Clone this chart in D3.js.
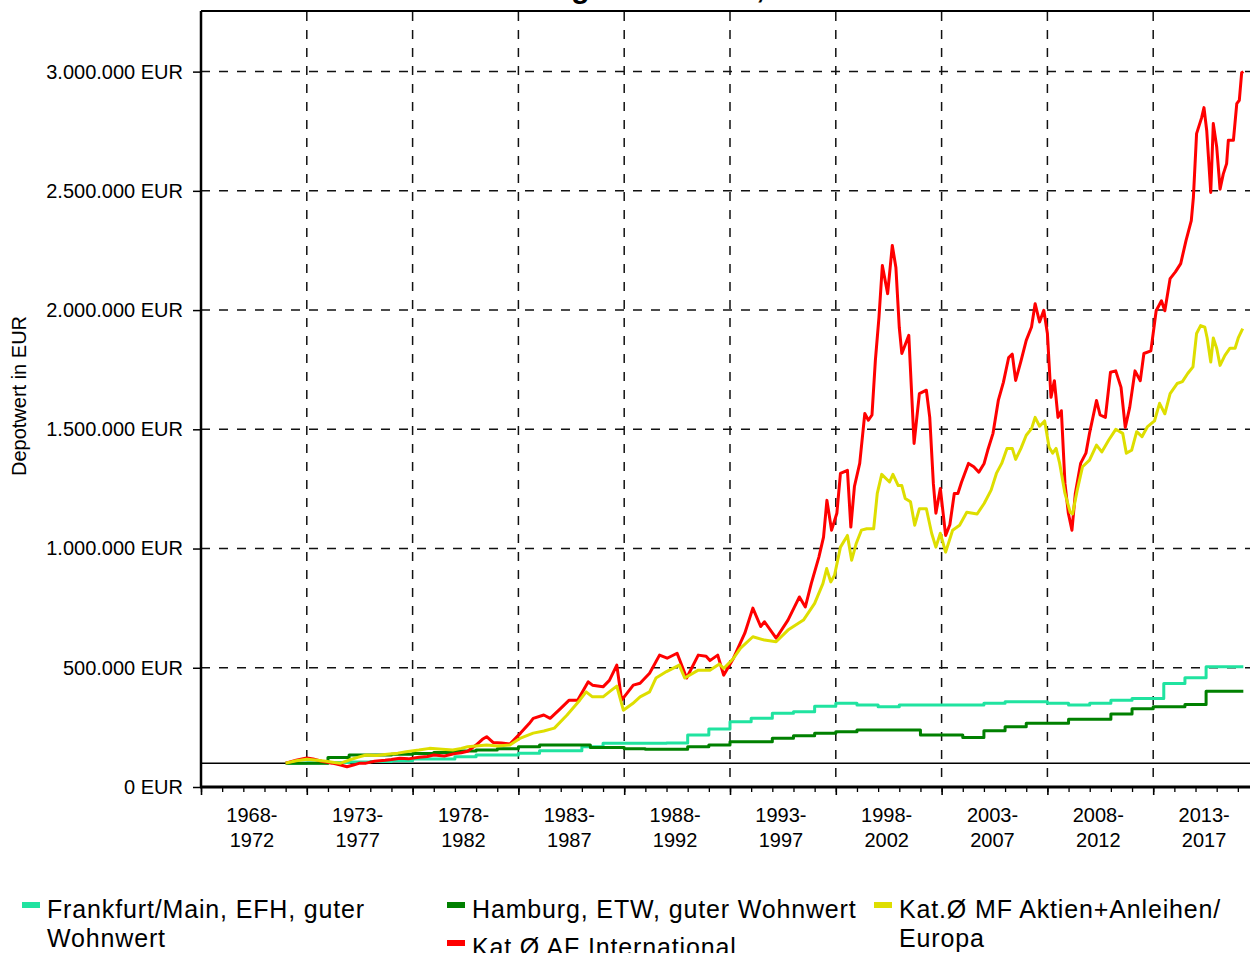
<!DOCTYPE html>
<html>
<head>
<meta charset="utf-8">
<script src="https://cdn.jsdelivr.net/npm/d3@7/dist/d3.min.js"></script>
<style>
  body { margin: 0; background: #fff; }
  text { font-family: "Liberation Sans", Arial, sans-serif; fill: #000; }
</style>
</head>
<body>
<svg id="chart"></svg>
<script>
// 5-year periods on the x axis
const periods = ['1968-1972', '1973-1977', '1978-1982', '1983-1987', '1988-1992',
  '1993-1997', '1998-2002', '2003-2007', '2008-2012', '2013-2017'];

// y ticks in thousand EUR
const yTicks = [0, 500, 1000, 1500, 2000, 2500, 3000];

// [year, depot value in thousand EUR]
const frankfurt = [[1972, 100], [1973, 101], [1974, 103], [1975, 105], [1976, 107], [1977, 110],
  [1978, 117], [1980, 127], [1981, 134], [1983, 142], [1984, 152], [1986, 169], [1987, 183],
  [1990, 185], [1991, 218], [1992, 243], [1993, 274], [1994, 288], [1995, 309], [1996, 316],
  [1997, 339], [1998, 351], [1999, 344], [2000, 337], [2001, 344], [2005, 351], [2006, 357],
  [2008, 351], [2009, 344], [2010, 351], [2011, 364], [2012, 371], [2013.5, 434], [2014.5, 458],
  [2015.5, 504], [2017.26, 504]];

const hamburg = [[1972, 100], [1974, 124], [1975, 134], [1977, 137], [1978, 140], [1979, 145],
  [1980, 151], [1981, 155], [1982, 160], [1983, 169], [1984, 176], [1986.4, 166], [1988, 160],
  [1989, 158], [1991, 169], [1992, 176], [1993, 190], [1995, 204], [1996, 215], [1997, 225],
  [1998, 232], [1999, 239], [2002, 218], [2004, 208], [2005, 236], [2006, 253], [2007, 267],
  [2009, 284], [2011, 306], [2012, 328], [2013, 337], [2014.5, 346], [2015.5, 402], [2017.26, 402]];

const mfEuropa = [[1972.0, 100], [1972.5, 110], [1973.0, 116], [1973.5, 112], [1973.9, 108],
  [1974.3, 103], [1974.6, 100], [1975.0, 113], [1975.4, 124], [1975.8, 134], [1976.3, 132],
  [1976.8, 137], [1977.3, 142], [1977.7, 148], [1978.3, 155], [1978.8, 162], [1979.4, 158],
  [1979.9, 155], [1980.3, 162], [1980.6, 169], [1981.0, 172], [1981.5, 176], [1982.0, 172],
  [1982.6, 176], [1983.1, 205], [1983.7, 226], [1984.2, 235], [1984.7, 247], [1985.3, 302],
  [1985.9, 364], [1986.2, 399], [1986.5, 378], [1987.0, 378], [1987.4, 406], [1987.65, 423],
  [1987.96, 322], [1988.4, 350], [1988.75, 378], [1989.2, 399], [1989.5, 457], [1990.0, 484],
  [1990.6, 511], [1990.86, 457], [1991.5, 490], [1992.05, 490], [1992.5, 516], [1992.7, 497],
  [1993.16, 539], [1993.5, 582], [1994.08, 630], [1994.63, 616], [1995.18, 609], [1995.74, 658],
  [1996.47, 700], [1997.0, 770], [1997.39, 853], [1997.57, 916], [1997.76, 860], [1997.94, 888],
  [1998.22, 1006], [1998.55, 1055], [1998.75, 951], [1998.96, 1020], [1999.21, 1077],
  [1999.46, 1083], [1999.79, 1083], [1999.96, 1231], [2000.17, 1311], [2000.54, 1279],
  [2000.7, 1311], [2000.95, 1264], [2001.12, 1264], [2001.28, 1210], [2001.53, 1196],
  [2001.73, 1098], [2001.95, 1167], [2002.28, 1167], [2002.53, 1064], [2002.73, 1006],
  [2002.94, 1064], [2003.19, 985], [2003.52, 1077], [2003.85, 1098], [2004.19, 1152],
  [2004.68, 1145], [2005.01, 1189], [2005.34, 1245], [2005.59, 1315], [2005.84, 1357],
  [2006.09, 1420], [2006.34, 1420], [2006.5, 1374], [2006.75, 1420], [2007.0, 1475],
  [2007.25, 1503], [2007.42, 1550], [2007.63, 1513], [2007.87, 1535], [2008.08, 1425],
  [2008.25, 1400], [2008.41, 1420], [2008.58, 1357], [2008.83, 1231], [2009.08, 1152],
  [2009.19, 1145], [2009.41, 1245], [2009.66, 1343], [2009.99, 1371], [2010.32, 1434],
  [2010.57, 1405], [2010.9, 1455], [2011.23, 1500], [2011.56, 1483], [2011.73, 1400],
  [2011.98, 1412], [2012.22, 1490], [2012.47, 1469], [2012.72, 1510], [2013.06, 1535],
  [2013.3, 1609], [2013.55, 1565], [2013.8, 1650], [2014.13, 1692], [2014.38, 1700],
  [2014.63, 1734], [2014.88, 1762], [2015.05, 1902], [2015.24, 1935], [2015.44, 1928],
  [2015.55, 1883], [2015.72, 1782], [2015.84, 1883], [2016.0, 1840], [2016.16, 1768],
  [2016.39, 1810], [2016.63, 1840], [2016.87, 1840], [2017.02, 1883], [2017.23, 1922]];

const afIntl = [[1972.0, 100], [1972.5, 112], [1973.0, 122], [1973.3, 118], [1973.7, 108],
  [1974.2, 100], [1974.6, 92], [1974.9, 85], [1975.2, 92], [1975.5, 100], [1975.8, 100],
  [1976.2, 108], [1976.7, 112], [1977.0, 115], [1977.4, 121], [1977.8, 118], [1978.3, 125],
  [1978.7, 128], [1979.0, 134], [1979.5, 130], [1980.0, 140], [1980.3, 144], [1980.6, 150],
  [1981.0, 176], [1981.3, 200], [1981.5, 211], [1981.8, 187], [1982.2, 185], [1982.6, 180],
  [1983.1, 226], [1983.5, 265], [1983.7, 288], [1984.2, 302], [1984.5, 288], [1985.0, 330],
  [1985.4, 364], [1985.8, 364], [1986.3, 441], [1986.5, 427], [1987.0, 420], [1987.3, 447],
  [1987.65, 511], [1987.88, 364], [1988.43, 427], [1988.75, 435], [1989.2, 477], [1989.67, 553],
  [1990.03, 540], [1990.5, 561], [1990.95, 457], [1991.5, 553], [1991.87, 548], [1992.05, 530],
  [1992.42, 553], [1992.7, 469], [1993.16, 539], [1993.7, 645], [1994.08, 750], [1994.45, 673],
  [1994.63, 693], [1995.18, 624], [1995.74, 700], [1996.28, 797], [1996.56, 755], [1996.84, 853],
  [1997.2, 964], [1997.42, 1048], [1997.58, 1202], [1997.8, 1077], [1998.05, 1148],
  [1998.22, 1315], [1998.55, 1328], [1998.71, 1090], [1998.88, 1260], [1999.13, 1357],
  [1999.37, 1566], [1999.54, 1538], [1999.71, 1560], [1999.87, 1789], [2000.04, 1969],
  [2000.2, 2187], [2000.45, 2069], [2000.67, 2271], [2000.84, 2179], [2001.0, 1927],
  [2001.12, 1818], [2001.45, 1894], [2001.7, 1441], [2001.95, 1650], [2002.28, 1664],
  [2002.44, 1550], [2002.61, 1273], [2002.73, 1148], [2002.94, 1252], [2003.19, 1055],
  [2003.39, 1100], [2003.6, 1231], [2003.77, 1231], [2003.94, 1278], [2004.27, 1357],
  [2004.52, 1343], [2004.76, 1320], [2005.01, 1357], [2005.18, 1412], [2005.43, 1483],
  [2005.68, 1621], [2005.92, 1697], [2006.17, 1801], [2006.34, 1815], [2006.5, 1705],
  [2006.75, 1786], [2007.0, 1873], [2007.25, 1929], [2007.42, 2027], [2007.63, 1950],
  [2007.83, 1999], [2008.0, 1902], [2008.17, 1634], [2008.33, 1704], [2008.5, 1550],
  [2008.66, 1578], [2008.83, 1273], [2008.99, 1148], [2009.16, 1077], [2009.32, 1231],
  [2009.57, 1357], [2009.82, 1400], [2009.99, 1483], [2010.32, 1621], [2010.49, 1560],
  [2010.74, 1550], [2010.98, 1739], [2011.23, 1745], [2011.48, 1676], [2011.68, 1508],
  [2011.89, 1592], [2012.14, 1745], [2012.39, 1704], [2012.56, 1818], [2012.89, 1829],
  [2013.14, 1997], [2013.39, 2039], [2013.55, 1997], [2013.8, 2132], [2014.05, 2160],
  [2014.3, 2195], [2014.55, 2291], [2014.8, 2375], [2014.9, 2473], [2015.05, 2740],
  [2015.29, 2807], [2015.4, 2849], [2015.53, 2752], [2015.72, 2493], [2015.84, 2782],
  [2016.0, 2685], [2016.16, 2507], [2016.31, 2570], [2016.47, 2614], [2016.55, 2712],
  [2016.79, 2712], [2016.95, 2866], [2017.07, 2880], [2017.18, 2995], [2017.26, 3000]];

const margin = {top: 12, left: 201},
  width = 1058,
  height = 775;

const svg = d3.select('#chart')
  .attr('width', 1250)
  .attr('height', 953);

svg.append('rect').attr('width', 1250).attr('height', 953).attr('fill', '#fff');

// title, mostly cut off at the top edge
svg.append('text')
  .attr('x', 350)
  .attr('y', -2)
  .style('font-size', '30px')
  .style('font-weight', 'bold')
  .text('Wertentwicklung Immobilien, Aktien- und Mischfonds 1972 - 2017');

const chart = svg.append('g')
  .attr('transform', `translate(${margin.left},${margin.top})`);

const x = d3.scaleLinear().domain([1968, 2018]).range([0, width]);
const y = d3.scaleLinear().domain([0, 3250]).range([height, 0]);

const de = d3.formatLocale({decimal: ',', thousands: '.', grouping: [3], currency: ['', '']});
const fmt = de.format(',.0f');

// grid
const majorYears = d3.range(1968, 2019, 5);
chart.selectAll('.vgrid')
  .data(majorYears.slice(1, -1))
  .enter().append('line')
  .attr('class', 'vgrid')
  .attr('x1', d => x(d)).attr('x2', d => x(d))
  .attr('y1', 0).attr('y2', height)
  .attr('stroke', '#111').attr('stroke-width', 1.5)
  .attr('stroke-dasharray', '9,9');

chart.selectAll('.hgrid')
  .data(yTicks.slice(1))
  .enter().append('line')
  .attr('class', 'hgrid')
  .attr('x1', 0).attr('x2', width)
  .attr('y1', d => y(d)).attr('y2', d => y(d))
  .attr('stroke', '#111').attr('stroke-width', 1.5)
  .attr('stroke-dasharray', '9,9');

// 100.000 EUR start line
chart.append('line')
  .attr('x1', 0).attr('x2', width)
  .attr('y1', y(100)).attr('y2', y(100))
  .attr('stroke', '#000').attr('stroke-width', 1.5);

const series = [
  {data: frankfurt, color: '#20e3a0', step: true},
  {data: hamburg, color: '#008000', step: true},
  {data: afIntl, color: '#ff0000', step: false},
  {data: mfEuropa, color: '#dede00', step: false}
];

series.forEach(s => {
  const line = d3.line()
    .x(d => x(d[0]))
    .y(d => y(d[1]))
    .curve(s.step ? d3.curveStepAfter : d3.curveLinear);
  chart.append('path')
    .datum(s.data)
    .attr('d', line)
    .attr('fill', 'none')
    .attr('stroke', s.color)
    .attr('stroke-width', 3)
    .attr('stroke-linejoin', 'round');
});

// y axis
const yAxis = chart.append('g')
  .call(d3.axisLeft(y).tickValues(yTicks).tickSize(8).tickPadding(10)
    .tickFormat(d => fmt(d * 1000) + ' EUR'));
yAxis.select('.domain').remove();
yAxis.selectAll('line').attr('stroke', '#000').attr('stroke-width', 1.5);
yAxis.selectAll('text').style('font-size', '20px').attr('fill', '#000');

// x axis: yearly minor ticks, 5-year major ticks
const xMinor = chart.append('g')
  .attr('transform', `translate(0,${height})`)
  .call(d3.axisBottom(x).tickValues(d3.range(1968, 2019)).tickSize(5).tickFormat(''));
xMinor.select('.domain').remove();
xMinor.selectAll('line').attr('stroke', '#000').attr('stroke-width', 1.3);

const xMajor = chart.append('g')
  .attr('transform', `translate(0,${height})`)
  .call(d3.axisBottom(x).tickValues(majorYears).tickSize(8).tickFormat(''));
xMajor.select('.domain').remove();
xMajor.selectAll('line').attr('stroke', '#000').attr('stroke-width', 1.6);

const xLabels = chart.append('g').selectAll('text')
  .data(periods)
  .enter().append('text')
  .attr('text-anchor', 'middle')
  .attr('transform', (d, i) => `translate(${x(1968 + 5 * i + 2.5) - 2},${height})`)
  .style('font-size', '20px');
xLabels.append('tspan').attr('x', 0).attr('y', 35).text(d => d.split('-')[0] + '-');
xLabels.append('tspan').attr('x', 0).attr('y', 60).text(d => d.split('-')[1]);

// frame lines
chart.append('line').attr('x1', 0).attr('x2', 0).attr('y1', -1).attr('y2', height + 1)
  .attr('stroke', '#000').attr('stroke-width', 2.5);
chart.append('line').attr('x1', -1).attr('x2', width).attr('y1', height).attr('y2', height)
  .attr('stroke', '#000').attr('stroke-width', 3);
chart.append('line').attr('x1', 0).attr('x2', width).attr('y1', -1).attr('y2', -1)
  .attr('stroke', '#000').attr('stroke-width', 2);

// y axis title
svg.append('text')
  .attr('transform', 'translate(26,396) rotate(-90)')
  .attr('text-anchor', 'middle')
  .style('font-size', '20px')
  .text('Depotwert in EUR');

// legend
const legendItems = [
  {lines: ['Frankfurt/Main, EFH, guter', 'Wohnwert'], color: '#20e3a0', x: 22, y: 902},
  {lines: ['Hamburg, ETW, guter Wohnwert'], color: '#008000', x: 447, y: 902},
  {lines: ['Kat.Ø MF Aktien+Anleihen/', 'Europa'], color: '#dede00', x: 874, y: 902},
  {lines: ['Kat.Ø AF International'], color: '#ff0000', x: 447, y: 940}
];

const legend = svg.append('g').selectAll('g')
  .data(legendItems)
  .enter().append('g')
  .attr('transform', d => `translate(${d.x},${d.y})`);

legend.append('rect')
  .attr('width', 18).attr('height', 6)
  .attr('fill', d => d.color);

legend.append('text')
  .style('font-size', '25px')
  .style('letter-spacing', '0.85px')
  .each(function(d) {
    d3.select(this).selectAll('tspan')
      .data(d.lines)
      .enter().append('tspan')
      .attr('x', 25)
      .attr('y', (l, i) => 16 + i * 29)
      .text(l => l);
  });
</script>
</body>
</html>
